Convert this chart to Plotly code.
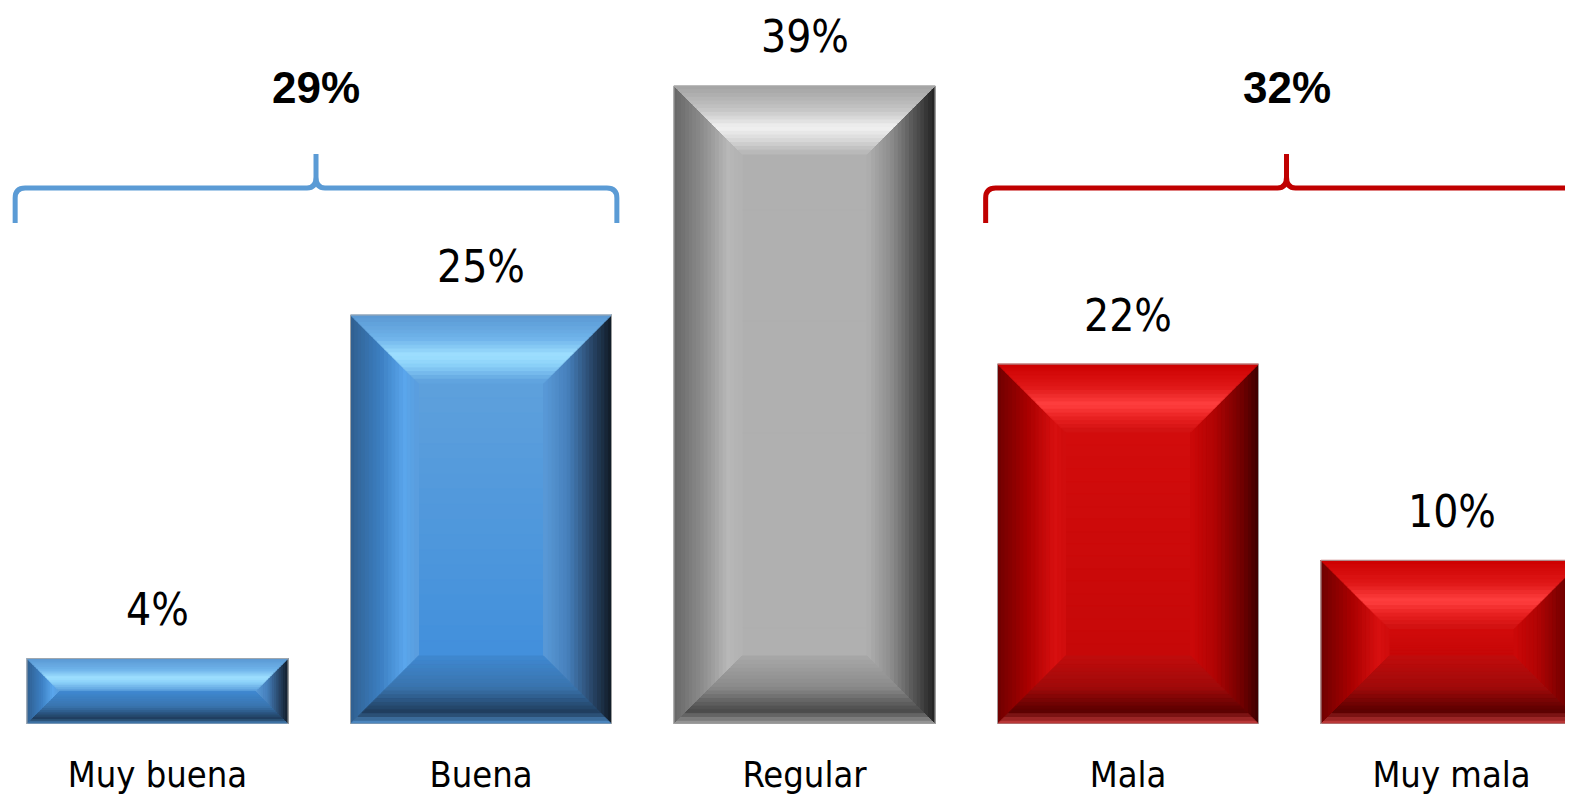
import plotly.graph_objects as go

# ---------------- data ----------------
categories = ["Muy buena", "Buena", "Regular", "Mala", "Muy mala"]
values = [4, 25, 39, 22, 10]
bar_palettes = ["blue", "blue", "gray", "red", "red"]
group_labels = ["29%", "32%"]
group_members = [(0, 1), (3, 4)]
group_colors = ["#5B9BD5", "#C00000"]

# ---------------- layout constants ----------------
OFF = 8                      # default page body margin
W, H = 1573 - OFF, 799 - OFF
BASE_PX = 724 - OFF          # baseline y in figure px
MB = H - BASE_PX
PLOT_H = BASE_PX
PX_X = 323.5                 # px per category
PX_Y = 16.36                 # px per percent
X0_PX = 157.5 - OFF          # px of first category centre
BAR_PX = 261.0
BAR_W = BAR_PX / PX_X
BEVEL_PX = 68.0

x_range = [-X0_PX / PX_X, (W - X0_PX) / PX_X]
y_range = [0, PLOT_H / PX_Y]


def hx(c):
    return "#%02x%02x%02x" % tuple(int(round(v)) for v in c)


def h2rgb(h):
    h = h.lstrip("#")
    return tuple(int(h[i:i + 2], 16) for i in (0, 2, 4))


def grad(stops, t):
    for (t0, c0), (t1, c1) in zip(stops, stops[1:]):
        if t0 <= t <= t1:
            f = 0 if t1 == t0 else (t - t0) / (t1 - t0)
            a, b = h2rgb(c0), h2rgb(c1)
            return hx([a[i] + (b[i] - a[i]) * f for i in range(3)])
    return stops[-1][1]


# gradients: t = 0 outer edge -> 1 inner edge ; face: t = 0 top -> 1 bottom
PALETTES = {
    "blue": {
        "face": [(0, "#5ea0dc"), (1, "#4290dc")],
        "top": [(0, "#5a98d2"), (0.35, "#6fb3ea"), (0.6, "#9fe0ff"), (0.75, "#8ad0f8"), (1, "#5c9fdc")],
        "left": [(0, "#305f8f"), (0.45, "#3c7fc2"), (0.8, "#5aa6ec"), (1, "#5a9ddd")],
        "right": [(0, "#101a24"), (0.25, "#253f5e"), (0.65, "#4680bb"), (1, "#5a9ad8")],
        "bottom": [(0, "#5494d0"), (0.18, "#1f3c5c"), (0.55, "#3a74ad"), (1, "#3f88d0")],
    },
    "gray": {
        "face": [(0, "#b0b0b0"), (1, "#b0b0b0")],
        "top": [(0, "#a2a2a2"), (0.35, "#c4c4c4"), (0.62, "#f2f2f2"), (0.8, "#d8d8d8"), (1, "#b4b4b4")],
        "left": [(0, "#666666"), (0.45, "#8f8f8f"), (0.8, "#b8b8b8"), (1, "#b2b2b2")],
        "right": [(0, "#202020"), (0.25, "#4a4a4a"), (0.65, "#8c8c8c"), (1, "#b0b0b0")],
        "bottom": [(0, "#a0a0a0"), (0.2, "#4a4a4a"), (0.55, "#8a8a8a"), (1, "#a8a8a8")],
    },
    "red": {
        "face": [(0, "#d20c0c"), (1, "#c60808")],
        "top": [(0, "#cc0000"), (0.35, "#e01818"), (0.6, "#ff4040"), (0.8, "#e82020"), (1, "#d01010")],
        "left": [(0, "#6e0000"), (0.45, "#a80000"), (0.85, "#d81010"), (1, "#d00c0c")],
        "right": [(0, "#3c0000"), (0.25, "#700000"), (0.65, "#b00404"), (1, "#cc0808")],
        "bottom": [(0, "#c84040"), (0.2, "#5a0000"), (0.55, "#a00a0a"), (1, "#c00c0c")],
    },
}

N_STRIPS = 18
shapes = []


def poly(pts, color):
    d = "M " + " L ".join(f"{x:.5f},{y:.5f}" for x, y in pts) + " Z"
    shapes.append(dict(type="path", path=d, xref="x", yref="y",
                       fillcolor=color, line=dict(color=color, width=1),
                       layer="above"))


for i, v in enumerate(values):
    pal = PALETTES[bar_palettes[i]]
    x0, x1 = i - BAR_W / 2, i + BAR_W / 2
    y0, y1 = 0.0, float(v)
    h_px = v * PX_Y
    b = min(BEVEL_PX, h_px / 2.0, BAR_PX / 2.0)
    dx, dy = b / PX_X, b / PX_Y
    fy0, fy1 = y0 + dy, y1 - dy
    if fy1 > fy0:
        for k in range(N_STRIPS):
            ta, tb = k / N_STRIPS, (k + 1) / N_STRIPS
            ya = fy1 - ta * (fy1 - fy0)
            yb = fy1 - tb * (fy1 - fy0)
            c = grad(pal["face"], (ta + tb) / 2)
            poly([(x0 + dx, ya), (x1 - dx, ya), (x1 - dx, yb), (x0 + dx, yb)], c)
    for k in range(N_STRIPS):
        ta, tb = k / N_STRIPS, (k + 1) / N_STRIPS
        tm = (ta + tb) / 2
        poly([(x0 + ta * dx, y0 + ta * dy), (x0 + tb * dx, y0 + tb * dy),
              (x0 + tb * dx, y1 - tb * dy), (x0 + ta * dx, y1 - ta * dy)],
             grad(pal["left"], tm))
        poly([(x1 - ta * dx, y0 + ta * dy), (x1 - tb * dx, y0 + tb * dy),
              (x1 - tb * dx, y1 - tb * dy), (x1 - ta * dx, y1 - ta * dy)],
             grad(pal["right"], tm))
        poly([(x0 + ta * dx, y1 - ta * dy), (x1 - ta * dx, y1 - ta * dy),
              (x1 - tb * dx, y1 - tb * dy), (x0 + tb * dx, y1 - tb * dy)],
             grad(pal["top"], tm))
        poly([(x0 + ta * dx, y0 + ta * dy), (x1 - ta * dx, y0 + ta * dy),
              (x1 - tb * dx, y0 + tb * dy), (x0 + tb * dx, y0 + tb * dy)],
             grad(pal["bottom"], tm))
    shapes.append(dict(type="rect", xref="x", yref="y", x0=x0, x1=x1, y0=y0, y1=y1,
                       line=dict(color="rgba(170,170,170,0.9)", width=1),
                       fillcolor="rgba(0,0,0,0)", layer="above"))

# ---------------- brackets ----------------
BR_MID_PX, BR_TOP_PX, BR_BOT_PX = 188 - OFF, 154 - OFF, 223 - OFF
y_mid = (PLOT_H - BR_MID_PX) / PX_Y
y_top = (PLOT_H - BR_TOP_PX) / PX_Y
y_bot = (PLOT_H - BR_BOT_PX) / PX_Y
rx, ry = 10 / PX_X, 10 / PX_Y
cx, cy = 9 / PX_X, 11 / PX_Y

annotations = []
for (a, b_), lab, col in zip(group_members, group_labels, group_colors):
    xl = a - 0.44
    xr = b_ + 0.42
    xc = (xl + xr) / 2
    path = (f"M {xl},{y_bot} L {xl},{y_mid - ry} Q {xl},{y_mid} {xl + rx},{y_mid} "
            f"L {xc - cx},{y_mid} Q {xc},{y_mid} {xc},{y_mid + cy} L {xc},{y_top} "
            f"L {xc},{y_mid + cy} Q {xc},{y_mid} {xc + cx},{y_mid} "
            f"L {xr - rx},{y_mid} Q {xr},{y_mid} {xr},{y_mid - ry} L {xr},{y_bot}")
    shapes.append(dict(type="path", path=path, xref="x", yref="y",
                       line=dict(color=col, width=5), layer="above"))
    annotations.append(dict(x=xc, y=y_top, xref="x", yref="y", text=f"<b>{lab}</b>",
                            showarrow=False, yanchor="middle", yshift=67,
                            font=dict(family="Liberation Sans, Arial, sans-serif",
                                      size=44, color="black")))

NARROW = "Liberation Sans Narrow, Arial Narrow, DejaVu Sans Condensed, sans-serif"
for i, v in enumerate(values):
    annotations.append(dict(x=i, y=v, xref="x", yref="y", text=f"{v}%",
                            showarrow=False, yanchor="middle", yshift=49,
                            font=dict(family=NARROW, size=44, color="black")))

fig = go.Figure(go.Bar(
    x=list(range(len(categories))), y=values, width=BAR_W,
    marker=dict(color=[grad(PALETTES[p]["face"], 0.5) for p in bar_palettes],
                line=dict(width=0)),
    hovertext=categories, hoverinfo="text+y", cliponaxis=True))

fig.update_layout(
    width=W, height=H,
    margin=dict(l=0, r=0, t=0, b=MB),
    paper_bgcolor="white", plot_bgcolor="white",
    showlegend=False,
    shapes=shapes, annotations=annotations,
    xaxis=dict(range=x_range, tickvals=list(range(len(categories))),
               ticktext=categories, showgrid=False, zeroline=False,
               showline=False, ticks="", automargin=False,
               ticklabelstandoff=26,
               tickfont=dict(family=NARROW, size=36, color="black")),
    yaxis=dict(range=y_range, visible=False, fixedrange=True),
)

fig.write_html("out.html")
